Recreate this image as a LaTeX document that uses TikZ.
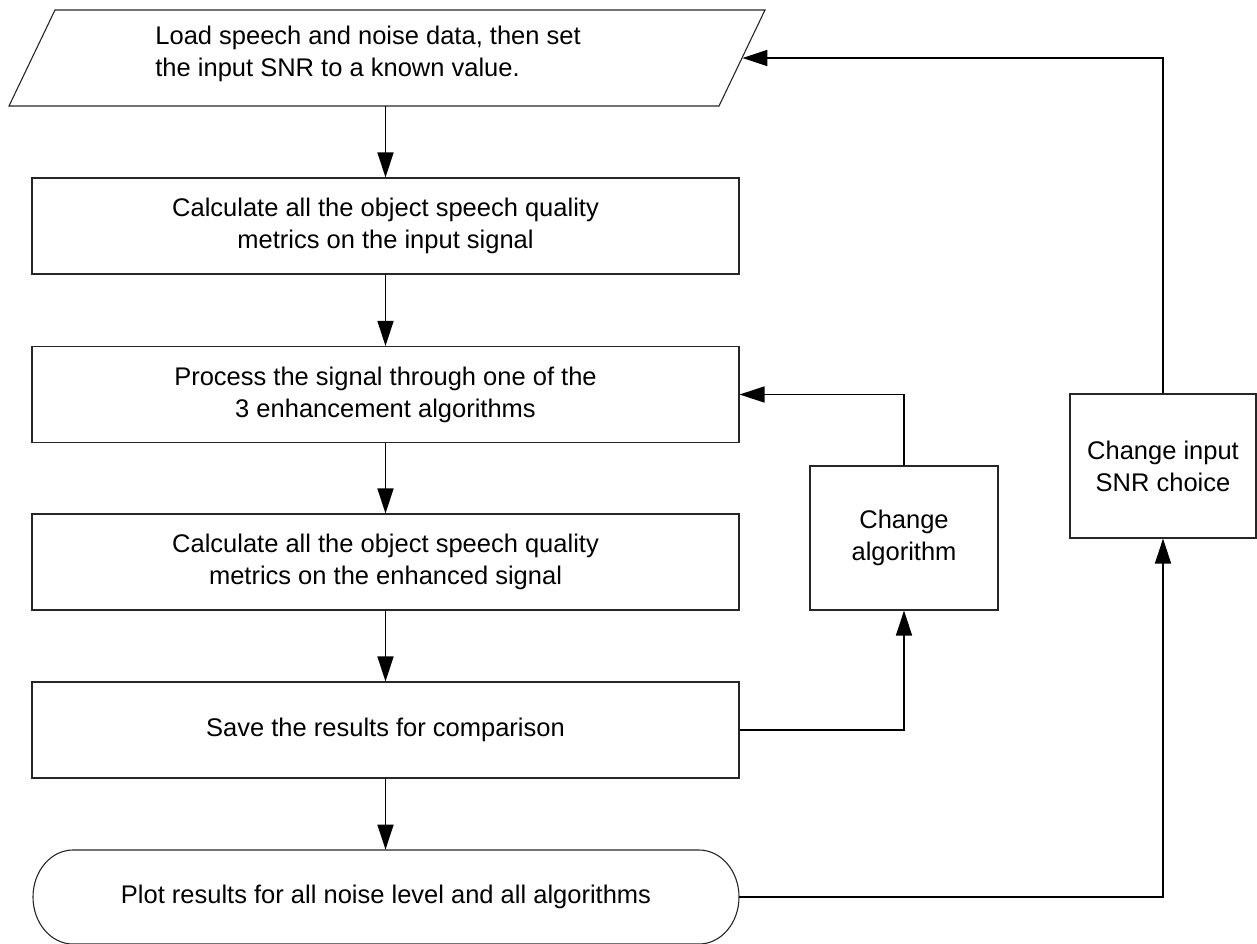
\documentclass[tikz,border=0pt]{standalone}
\usepackage{fontspec}
\setmainfont{Liberation Sans}
\usetikzlibrary{arrows.meta}
\begin{document}
\begin{tikzpicture}[x=0.5pt,y=-0.5pt,
  txt/.style={font=\fontsize{12.75}{16}\selectfont},
  shapeline/.style={draw=black!85, line width=0.55pt},
  stepbox/.style={shapeline, txt, minimum width=353.5pt, minimum height=48pt, inner sep=0pt, align=center},
  sidebox/.style={shapeline, txt, minimum width=94pt, minimum height=72pt, inner sep=0pt, align=center},
  arr/.style={draw=black, line width=0.8pt, -{Triangle[length=12.5pt,width=8pt]}},
  conn/.style={draw=black, line width=0.8pt}]
\useasboundingbox (0,0) rectangle (1257,943);

% input parallelogram
\draw[shapeline] (55,10) -- (765,10) -- (719,106) -- (9,106) -- cycle;
\node[minimum width=355pt, minimum height=48pt, inner sep=0pt] (load) at (387,58) {};
\node[txt, anchor=west, align=left, inner sep=0pt] (loadtxt) at (155,54)
  {Load speech and noise data, then set\\the input SNR to a known value.};

% process boxes
\node[stepbox] (calc1) at (385.5,226) {Calculate all the object speech quality\\metrics on the input signal};
\node[stepbox] (proc) at (385.5,394.5) {Process the signal through one of the\\3 enhancement algorithms};
\node[stepbox] (calc2) at (385.5,562) {Calculate all the object speech quality\\metrics on the enhanced signal};
\node[stepbox] (save) at (385.5,730) {Save the results for comparison};

% terminal
\draw[shapeline] (73,850) -- (699,850) arc[start angle=-90,end angle=90,x radius=40,y radius=47]
  -- (73,944) arc[start angle=90,end angle=270,x radius=40,y radius=47] -- cycle;
\node[txt, minimum width=353pt, minimum height=47pt, inner sep=0pt] (plot) at (386,897)
  {Plot results for all noise level and all algorithms};

% side boxes
\node[sidebox] (alg) at (904,538) {Change\\algorithm};
\node[sidebox, minimum width=93pt] (snr) at (1163,466) {Change input\\SNR choice};

% main flow
\draw[arr] (load.south -| calc1.north) -- (calc1.north);
\draw[arr] (calc1) -- (proc);
\draw[arr] (proc) -- (calc2);
\draw[arr] (calc2) -- (save);
\draw[arr] (save.south) -- (save.south |- plot.north);

% loops
\draw[arr] (save.east) -| (alg.south);
\draw[arr] (alg.north) |- (proc.east);
\draw[arr] (plot.east) -| (snr.south);
\draw[arr] (snr.north) |- (load.east);
\end{tikzpicture}
\end{document}
